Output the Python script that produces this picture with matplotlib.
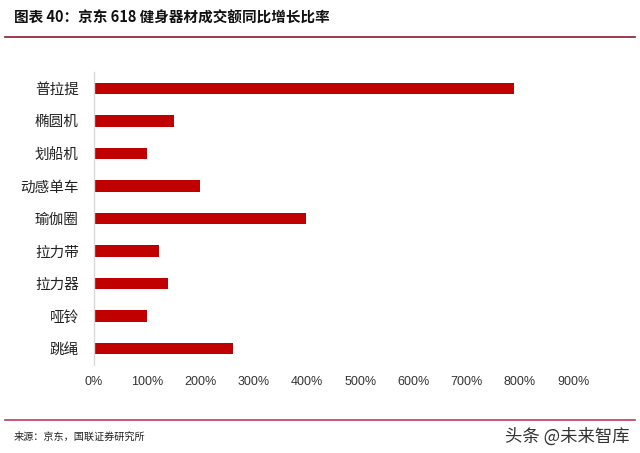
import matplotlib
matplotlib.use("Agg")
import matplotlib.pyplot as plt
from matplotlib.lines import Line2D
from matplotlib.ticker import FuncFormatter

plt.rcParams['font.family'] = ['Noto Sans CJK SC', 'DejaVu Sans']

categories = ["普拉提", "椭圆机", "划船机", "动感单车", "瑜伽圈", "拉力带", "拉力器", "哑铃", "跳绳"]
values = [790, 150, 100, 200, 398, 122, 139, 100, 261]
xticks = [0, 100, 200, 300, 400, 500, 600, 700, 800, 900]

fig = plt.figure(figsize=(6.4, 4.53), dpi=100)
ax = fig.add_axes([94/640, 1-365/453, (573-94)/640, (365-72)/453])

ypos = list(range(len(categories)))[::-1]
ax.barh(ypos, values, height=0.35, color="#C00000")
ax.set_ylim(-0.5, len(categories)-0.5)
ax.set_xlim(0, 900)
ax.set_xticks(xticks)
ax.xaxis.set_major_formatter(FuncFormatter(lambda v, p: f"{int(v)}%"))
ax.set_yticks(ypos)
ax.set_yticklabels(categories, fontsize=10.5, color="#222222")
ax.tick_params(axis='x', length=0, labelsize=9, colors="#333333", pad=8)
ax.tick_params(axis='y', length=0, pad=11)
for lab in ax.get_xticklabels():
    lab.set_family(['Liberation Sans', 'DejaVu Sans'])
for s in ['top', 'right', 'bottom']:
    ax.spines[s].set_visible(False)
ax.spines['left'].set_color("#D9D9D9")
ax.spines['left'].set_linewidth(1)

fig.text(14/640, 1-18/453, "图表 40：京东 618 健身器材成交额同比增长比率", fontsize=10.5,
         fontweight='bold', fontstyle='italic', va='center', ha='left', color="#111111")
fig.add_artist(Line2D([5/640, 635/640], [1-37/453, 1-37/453], color="#8B1A2E", lw=1.2))
fig.add_artist(Line2D([5/640, 635/640], [1-420/453, 1-420/453], color="#C0385A", lw=1.2))
fig.text(14/640, 1-437/453, "来源：京东，国联证券研究所", fontsize=7.3, va='center', ha='left', color="#222222")
fig.text(630/640, 1-437/453, "头条 @未来智库", fontsize=12.5, va='center', ha='right', color="#333333")

fig.savefig("out.png", dpi=100)
